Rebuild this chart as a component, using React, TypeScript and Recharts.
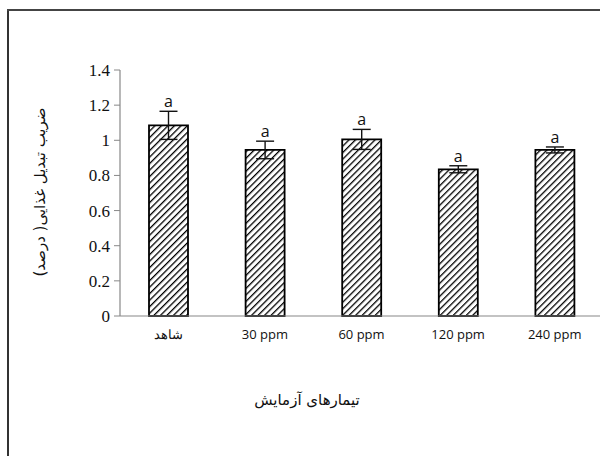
import { BarChart, Bar, XAxis, YAxis, ErrorBar, LabelList } from 'recharts';

const treatments = ['شاهد', '30 ppm', '60 ppm', '120 ppm', '240 ppm'];
const ratio = [1.085, 0.945, 1.005, 0.835, 0.945];
const stdErr = [0.08, 0.05, 0.057, 0.02, 0.017];
const letters = ['a', 'a', 'a', 'a', 'a'];
const yTicks = [0, 0.2, 0.4, 0.6, 0.8, 1, 1.2, 1.4];

const data = treatments.map((name, i) => ({
  name,
  value: ratio[i],
  err: stdErr[i],
  letter: letters[i],
}));

const LetterLabel = (props: any) => {
  const { x, y, width, height, index } = props;
  const row = data[index];
  const perUnit = height / row.value;
  const top = y - row.err * perUnit;
  return (
    <text
      x={x + width / 2}
      y={top - 4}
      textAnchor="middle"
      fontFamily="'Open Sans', sans-serif"
      fontSize={16}
      fill="#111"
    >
      {row.letter}
    </text>
  );
};

export default function App() {
  return (
    <div style={{ position: 'absolute', left: 0, top: 0, width: 600, height: 456, overflow: 'hidden', background: '#fff' }}>
      <div style={{ position: 'absolute', left: 7, top: 9, width: 2, height: 460, background: '#333' }} />
      <div style={{ position: 'absolute', left: 7, top: 9, width: 600, height: 2, background: '#444' }} />
      <div style={{ position: 'absolute', left: 0, top: 0 }}>
        <BarChart
          width={620}
          height={456}
          data={data}
          margin={{ top: 70, right: 17, left: 60, bottom: 110 }}
          barSize={39}
        >
          <defs>
            <pattern id="hatch" patternUnits="userSpaceOnUse" width="4.6" height="4.6" patternTransform="rotate(45)">
              <rect width="4.6" height="4.6" fill="#fff" />
              <line x1="0" y1="0" x2="0" y2="4.6" stroke="#000" strokeWidth="2.6" />
            </pattern>
          </defs>
          <XAxis
            dataKey="name"
            height={30}
            tickLine={false}
            axisLine={{ stroke: '#888', strokeWidth: 1.2 }}
            tick={{ fontFamily: "'Open Sans', sans-serif", fontSize: 13, fill: '#111' }}
            tickMargin={8}
            interval={0}
          />
          <YAxis
            width={60}
            domain={[0, 1.4]}
            ticks={yTicks}
            tickLine={{ stroke: '#888' }}
            tickSize={6}
            axisLine={{ stroke: '#888', strokeWidth: 1.2 }}
            tick={{ fontFamily: "'Liberation Serif', serif", fontSize: 17, fill: '#111' }}
            tickMargin={4}
            interval={0}
          />
          <Bar dataKey="value" fill="url(#hatch)" stroke="#000" strokeWidth={1.8} isAnimationActive={false}>
            <ErrorBar dataKey="err" width={9} stroke="#111" strokeWidth={1.4} direction="y" />
            <LabelList dataKey="letter" content={LetterLabel} />
          </Bar>
        </BarChart>
      </div>
      <div
        style={{
          position: 'absolute',
          left: 40,
          top: 192,
          transform: 'translate(-50%, -50%) rotate(-90deg)',
          whiteSpace: 'nowrap',
          fontFamily: "'DejaVu Sans', sans-serif",
          fontSize: 15,
          color: '#111',
          direction: 'rtl',
        }}
      >
        ضریب تبدیل غذایی( درصد)
      </div>
      <div
        style={{
          position: 'absolute',
          left: 307,
          top: 400,
          transform: 'translate(-50%, -50%)',
          whiteSpace: 'nowrap',
          fontFamily: "'DejaVu Sans', sans-serif",
          fontSize: 15,
          color: '#111',
          direction: 'rtl',
        }}
      >
        تیمارهای آزمایش
      </div>
    </div>
  );
}
